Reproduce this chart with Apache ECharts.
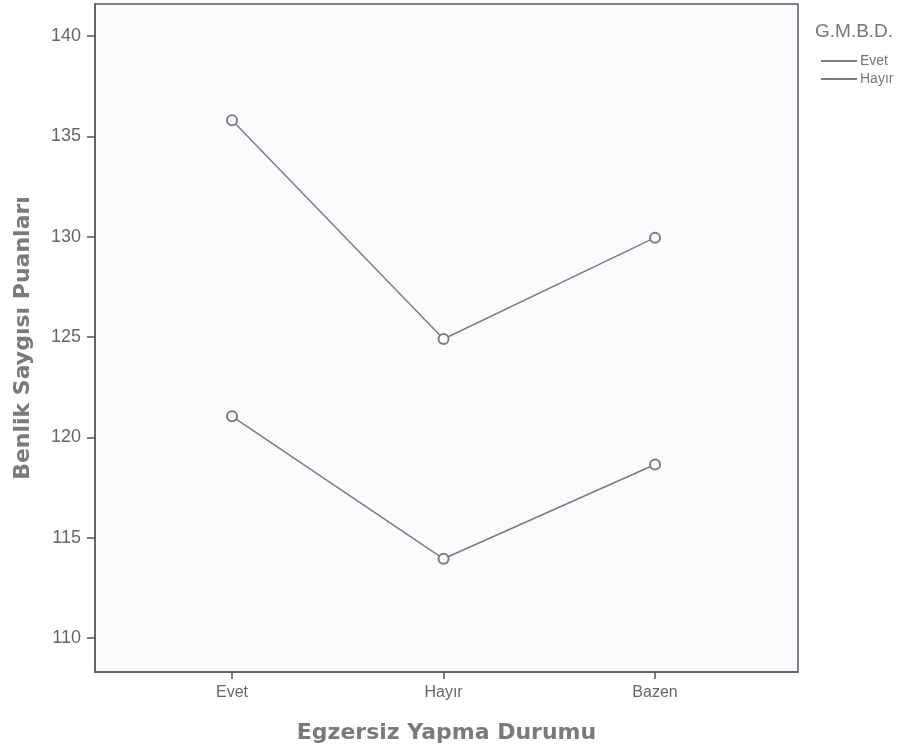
<!DOCTYPE html>
<html>
<head>
<meta charset="utf-8">
<script src="https://cdn.jsdelivr.net/npm/echarts@6/dist/echarts.min.js"></script>
<style>
html,body{margin:0;padding:0;background:#fff;}
#chart{width:913px;height:753px;}
</style>
</head>
<body>
<div id="chart"></div>
<script>
const categories = ['Evet', 'Hayır', 'Bazen'];
const seriesNames = ['Evet', 'Hayır'];
const evetValues = [135.8, 124.9, 129.95];
const hayirValues = [121.05, 113.95, 118.65];
const yTicks = [110, 115, 120, 125, 130, 135, 140];
const legendTitle = 'G.M.B.D.';

const chart = echarts.init(document.getElementById('chart'));
const font = 'Liberation Sans, Arial, sans-serif';
const boldFont = 'DejaVu Sans, Liberation Sans, sans-serif';
function toPoints(vals) { return vals.map((v, i) => [i, v]); }

chart.setOption({
  backgroundColor: '#ffffff',
  animation: false,
  title: {
    text: legendTitle, left: 810, top: 17,
    textStyle: { fontFamily: font, fontSize: 19, fontWeight: 'normal', color: '#777' }
  },
  legend: {
    orient: 'vertical', left: 816, top: 49,
    itemWidth: 36, itemHeight: 2, itemGap: 4,
    icon: 'rect',
    data: seriesNames,
    textStyle: { fontFamily: font, fontSize: 14, color: '#777', padding: [0, 0, 0, -2] }
  },
  grid: { left: 95, right: 115, top: 4, bottom: 81, outerBoundsMode: 'none', containLabel: false },
  xAxis: {
    type: 'value', min: -0.648, max: 2.676,
    name: 'Egzersiz Yapma Durumu', nameLocation: 'middle', nameGap: 50,
    nameTextStyle: { fontFamily: boldFont, fontSize: 22, fontWeight: 'bold', color: '#7a7a7a' },
    splitLine: { show: false },
    axisLine: { show: true, onZero: false, lineStyle: { color: '#5a5a66', width: 1.5 } },
    axisTick: { show: true, inside: false, customValues: [0, 1, 2], length: 7, lineStyle: { color: '#555', width: 1.5 } },
    axisLabel: { customValues: [0, 1, 2], formatter: v => categories[Math.round(v)] || '', margin: 13,
      fontFamily: font, fontSize: 16, color: '#666' }
  },
  yAxis: {
    type: 'value', min: 108.31, max: 141.59,
    name: 'Benlik Saygısı Puanları', nameLocation: 'middle', nameGap: 61, nameRotate: 90,
    nameTextStyle: { fontFamily: boldFont, fontSize: 22, fontWeight: 'bold', color: '#7a7a7a' },
    splitLine: { show: false },
    axisLine: { show: true, onZero: false, lineStyle: { color: '#5a5a66', width: 1.5 } },
    axisTick: { show: true, inside: false, customValues: yTicks, length: 8, lineStyle: { color: '#555', width: 1.5 } },
    axisLabel: { customValues: yTicks, margin: 14, fontFamily: font, fontSize: 18, color: '#666' }
  },
  graphic: [{
    type: 'rect', shape: { x: 95, y: 4, width: 703, height: 668 },
    style: { fill: '#f9fbfd', stroke: '#5a5a66', lineWidth: 1.5 }, z: -1, silent: true
  }],
  series: [
    { name: seriesNames[0], type: 'line', data: toPoints(evetValues),
      symbol: 'emptyCircle', symbolSize: 10,
      lineStyle: { color: '#7d7d88', width: 1.5 },
      itemStyle: { color: '#7d7d88', borderWidth: 1.2 } },
    { name: seriesNames[1], type: 'line', data: toPoints(hayirValues),
      symbol: 'emptyCircle', symbolSize: 10,
      lineStyle: { color: '#7a7a84', width: 1.5 },
      itemStyle: { color: '#7a7a84', borderWidth: 1.2 } }
  ]
});
</script>
</body>
</html>
